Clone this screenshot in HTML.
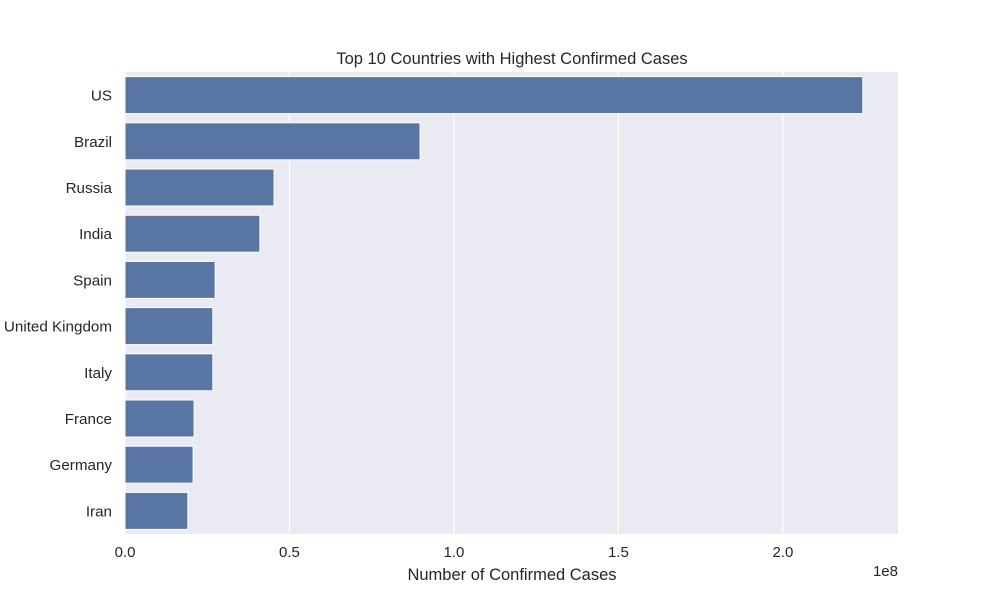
<!DOCTYPE html>
<html><head><meta charset="utf-8"><style>
body{margin:0;background:#fff;font-family:"Liberation Sans","DejaVu Sans",sans-serif;}
</style></head><body>
<svg width="1000" height="600" xmlns="http://www.w3.org/2000/svg">
<rect x="125" y="72" width="773" height="462" fill="#eaeaf2"/>
<g id="grid"></g><g id="bars"></g><g id="labels"></g>
<text x="512" y="64" text-anchor="middle" font-size="16.5" fill="#262626">Top 10 Countries with Highest Confirmed Cases</text>
<text x="512" y="580" text-anchor="middle" font-size="16.5" fill="#262626">Number of Confirmed Cases</text>
<text x="898" y="576" text-anchor="end" font-size="15" fill="#262626">1e8</text>
</svg>
<script>
const categories=["US","Brazil","Russia","India","Spain","United Kingdom","Italy","France","Germany","Iran"];
const values=[2.243e8,0.897e8,0.453e8,0.410e8,0.274e8,0.267e8,0.267e8,0.210e8,0.207e8,0.191e8];
const ticks=[0,0.5e8,1.0e8,1.5e8,2.0e8];
const tickLabels=["0.0","0.5","1.0","1.5","2.0"];
const NS="http://www.w3.org/2000/svg";
const x0=125,x1=898,y0=72,y1=534,xmax=2.35e8;
const X=v=>x0+(v/xmax)*(x1-x0);
const band=(y1-y0)/categories.length;
const Y=i=>y0+band*i;
function mk(t,a,p){const e=document.createElementNS(NS,t);for(const k in a)e.setAttribute(k,a[k]);p.appendChild(e);return e;}
const g=document.getElementById('grid'),b=document.getElementById('bars'),l=document.getElementById('labels');
ticks.forEach((t,i)=>{
 const ln=mk('line',{x1:X(t),x2:X(t),y1:y0,y2:y1,stroke:'#fff','stroke-width':1.2},g);
 
 
 const tx=mk('text',{x:X(t),y:557,'text-anchor':'middle','font-size':15,fill:'#262626'},l);
 tx.textContent=tickLabels[i];
 
 
});
categories.forEach((c,i)=>{
 const r=mk('rect',{x:X(0),y:Y(i)+band*0.1,width:X(values[i])-X(0),height:band*0.8,fill:'#5875a4',stroke:'#fff','stroke-width':1},b);
 
 
 const tx=mk('text',{x:112,y:Y(i)+band/2+5.5,'text-anchor':'end','font-size':15.2,fill:'#262626'},l);
 tx.textContent=c;
 
 
});
</script>
</body></html>
